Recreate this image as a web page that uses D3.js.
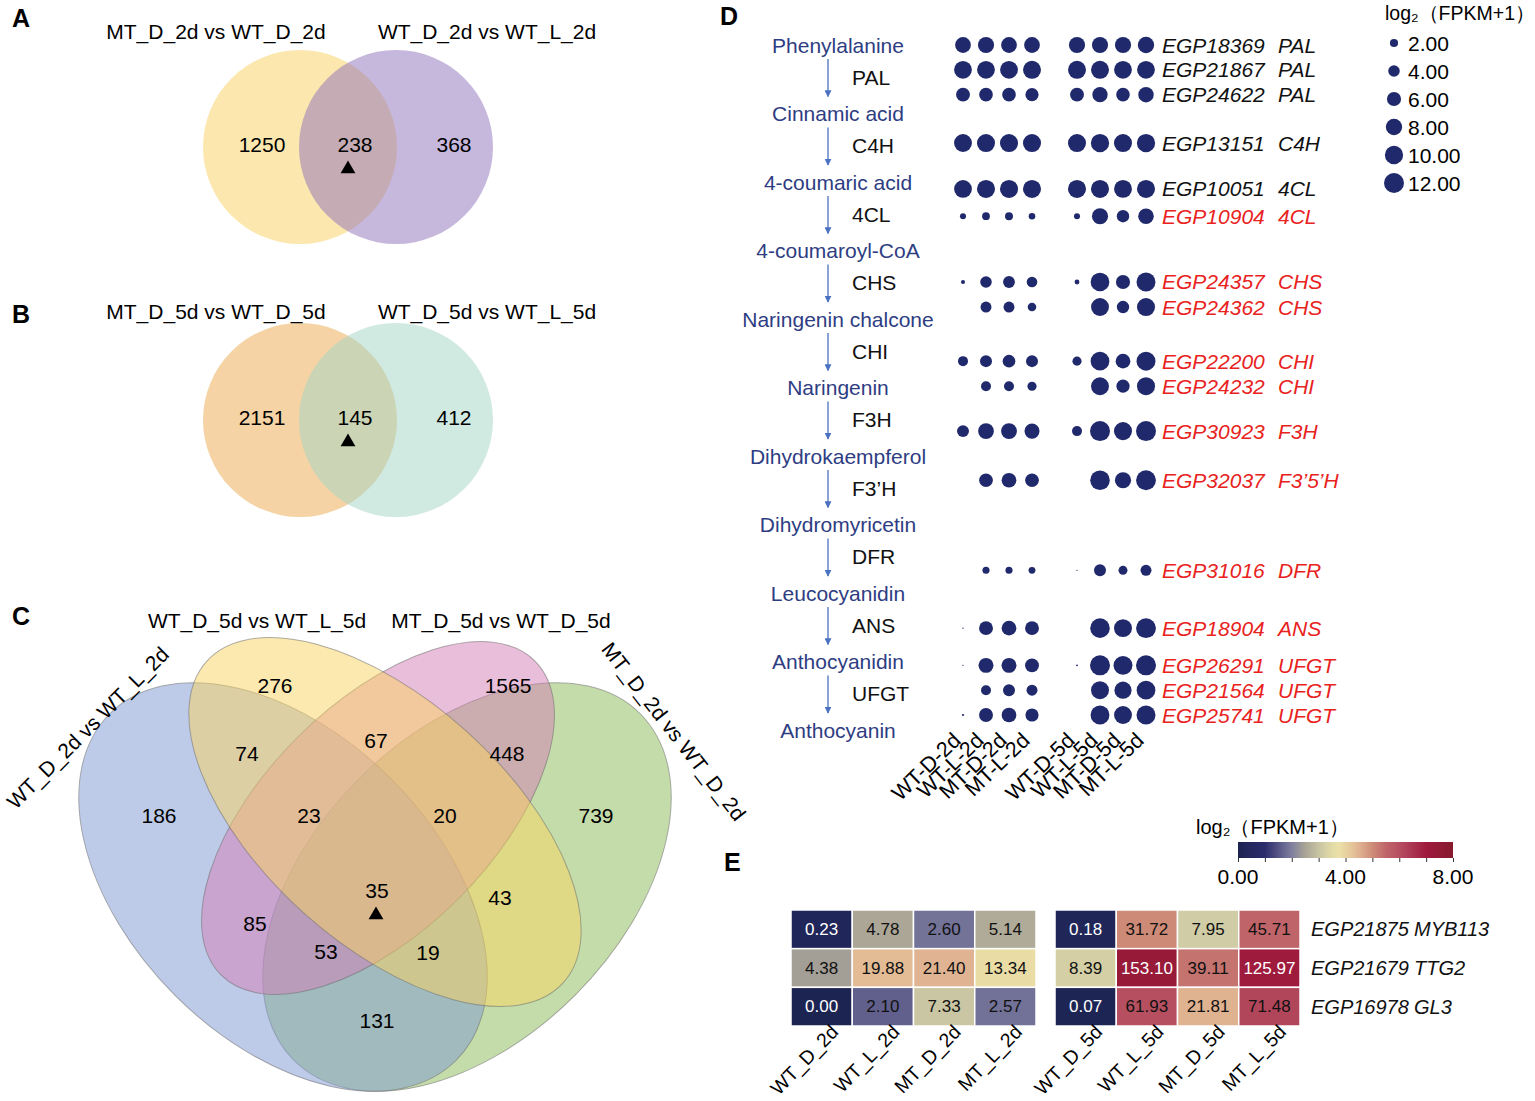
<!DOCTYPE html>
<html>
<head>
<meta charset="utf-8">
<script src="https://cdn.jsdelivr.net/npm/d3@7"></script>
<style>
body { margin: 0; background: #fff; }
svg { font-family: "Liberation Sans", Arial, sans-serif; }
</style>
</head>
<body>
<div id="fig"></div>
<script>
// ---------- data ----------
const VENN_A_SETS = ["MT_D_2d vs WT_D_2d", "WT_D_2d vs WT_L_2d"];
const VENN_A_COUNTS = [1250, 238, 368];
const VENN_B_SETS = ["MT_D_5d vs WT_D_5d", "WT_D_5d vs WT_L_5d"];
const VENN_B_COUNTS = [2151, 145, 412];

// A = WT_D_2d vs WT_L_2d, B = WT_D_5d vs WT_L_5d, C = MT_D_5d vs WT_D_5d, D = MT_D_2d vs WT_D_2d
const VENN_C_SETS = ["WT_D_2d vs WT_L_2d", "WT_D_5d vs WT_L_5d", "MT_D_5d vs WT_D_5d", "MT_D_2d vs WT_D_2d"];
const VENN_C_REGIONS = ["B", "C", "AB", "BC", "CD", "A", "ABC", "BCD", "D", "ABCD", "AC", "BD", "ACD", "ABD", "AD"];
const VENN_C_COUNTS = [276, 1565, 74, 67, 448, 186, 23, 20, 739, 35, 85, 43, 53, 19, 131];

const PATHWAY = ["Phenylalanine", "Cinnamic acid", "4-coumaric acid", "4-coumaroyl-CoA", "Naringenin chalcone",
	"Naringenin", "Dihydrokaempferol", "Dihydromyricetin", "Leucocyanidin", "Anthocyanidin", "Anthocyanin"];
const ENZYMES = ["PAL", "C4H", "4CL", "CHS", "CHI", "F3H", "F3\u2019H", "DFR", "ANS", "UFGT"];

const DOT_SAMPLES = ["WT-D-2d", "WT-L-2d", "MT-D-2d", "MT-L-2d", "WT-D-5d", "WT-L-5d", "MT-D-5d", "MT-L-5d"];
const DOT_GENES = ["EGP18369", "EGP21867", "EGP24622", "EGP13151", "EGP10051", "EGP10904", "EGP24357", "EGP24362",
	"EGP22200", "EGP24232", "EGP30923", "EGP32037", "EGP31016", "EGP18904", "EGP26291", "EGP21564", "EGP25741"];
const DOT_ENZ = ["PAL", "PAL", "PAL", "C4H", "4CL", "4CL", "CHS", "CHS", "CHI", "CHI", "F3H", "F3\u20195\u2019H",
	"DFR", "ANS", "UFGT", "UFGT", "UFGT"];
const DOT_VALUES = [
	[7.5, 7.8, 7.5, 7.5, 7.8, 7.8, 7.8, 8.0],
	[9.5, 9.5, 9.5, 9.7, 9.7, 9.7, 9.5, 9.5],
	[5.8, 5.6, 5.6, 5.2, 5.8, 7.0, 5.5, 7.2],
	[9.6, 9.8, 9.8, 9.8, 9.8, 10.0, 9.8, 10.0],
	[9.5, 9.8, 9.8, 9.8, 9.8, 9.8, 9.6, 9.8],
	[1.1, 1.8, 1.9, 1.3, 1.1, 7.8, 4.6, 7.3],
	[0.5, 4.0, 4.2, 3.4, 0.7, 10.5, 6.0, 10.8],
	[0.0, 3.6, 3.6, 2.2, 0.0, 9.6, 4.6, 9.8],
	[3.0, 4.3, 4.8, 4.3, 2.5, 10.5, 6.5, 10.8],
	[0.0, 3.0, 3.0, 2.5, 0.0, 9.6, 5.2, 9.8],
	[4.3, 7.5, 7.6, 6.8, 3.0, 12.0, 9.8, 12.0],
	[0.0, 5.6, 6.5, 5.6, 0.0, 11.5, 7.8, 11.8],
	[0.0, 1.5, 1.5, 1.4, 0.05, 4.3, 2.4, 3.6],
	[0.05, 5.8, 6.5, 5.8, 0.0, 11.5, 9.6, 11.8],
	[0.05, 6.7, 6.7, 5.8, 0.1, 12.0, 10.8, 12.0],
	[0.0, 3.0, 4.3, 3.6, 0.0, 9.6, 8.8, 10.5],
	[0.15, 5.8, 6.5, 5.2, 0.0, 10.7, 9.6, 10.8]
];
const DOT_LEGEND = [2, 4, 6, 8, 10, 12];

const HEAT_SAMPLES = ["WT_D_2d", "WT_L_2d", "MT_D_2d", "MT_L_2d", "WT_D_5d", "WT_L_5d", "MT_D_5d", "MT_L_5d"];
const HEAT_GENES = ["EGP21875", "EGP21679", "EGP16978"];
const HEAT_TF = ["MYB113", "TTG2", "GL3"];
const HEAT_VALUES = [
	[0.23, 4.78, 2.60, 5.14, 0.18, 31.72, 7.95, 45.71],
	[4.38, 19.88, 21.40, 13.34, 8.39, 153.10, 39.11, 125.97],
	[0.00, 2.10, 7.33, 2.57, 0.07, 61.93, 21.81, 71.48]
];
const HEAT_TICKS = [0, 4, 8];

// ---------- layout ----------
const W = 1535, H = 1101;
const TITLE = "log\u2082\uFF08FPKM+1\uFF09";
const VENN_C_POS = [[275, 685], [508, 685], [247, 753], [376, 740], [507, 753], [159, 815], [309, 815], [445, 815],
	[596, 815], [377, 890], [255, 923], [500, 897], [326, 951], [428, 952], [377, 1020]];
const DOT_ROW_SLOT = [0, 1, 2, 3.95, 5.8, 6.9, 9.55, 10.56, 12.74, 13.75, 15.56, 17.54, 21.17, 23.5, 25, 26, 27];
const RED_FROM = 5;

const svg = d3.select("#fig").append("svg").attr("width", W).attr("height", H);

// panel letters
[["A", 12, 27], ["B", 12, 323], ["C", 12, 625], ["D", 720, 25], ["E", 724, 871]].forEach(([t, x, y]) => {
	svg.append("text").attr("x", x).attr("y", y).attr("font-size", 25).attr("font-weight", "bold").text(t);
});

const tri = d3.symbol().type(d3.symbolTriangle).size(95);

// ---------- two-set venns (A, B) ----------
function twoVenn(cy, titleY, sets, counts, fills) {
	const cx = [300, 396];
	const g = svg.append("g");
	g.selectAll("circle").data(fills).enter().append("circle")
		.attr("cx", (d, i) => cx[i]).attr("cy", cy).attr("r", 97)
		.attr("fill", d => d).attr("fill-opacity", 0.5);
	g.selectAll(".ttl").data(sets).enter().append("text")
		.attr("x", (d, i) => [216, 487][i]).attr("y", titleY)
		.attr("text-anchor", "middle").attr("font-size", 21).text(d => d);
	g.selectAll(".num").data(counts).enter().append("text")
		.attr("x", (d, i) => [262, 355, 454][i]).attr("y", cy - 3)
		.attr("text-anchor", "middle").attr("dominant-baseline", "central").attr("font-size", 21).text(d => d);
	g.append("path").attr("d", tri).attr("transform", "translate(348," + (cy + 22) + ")").attr("fill", "#000");
}
twoVenn(147, 39, VENN_A_SETS, VENN_A_COUNTS, ["#f9d15f", "#8d6fb9"]);
twoVenn(420, 319, VENN_B_SETS, VENN_B_COUNTS, ["#eba74b", "#a1d5c5"]);

// ---------- four-set venn (C) ----------
const ELLIPSES = [
	{set: 3, cx: 467, cy: 887, rx: 245, ry: 153, rot: -45, fill: "#89b955"},
	{set: 0, cx: 283, cy: 887, rx: 245, ry: 153, rot: 45, fill: "#7d97d1"},
	{set: 2, cx: 378, cy: 818, rx: 222, ry: 114, rot: -45, fill: "#d17db5"},
	{set: 1, cx: 385, cy: 822, rx: 240, ry: 122, rot: 42, fill: "#f9d35f"}
];
const gC = svg.append("g");
gC.selectAll("ellipse").data(ELLIPSES).enter().append("ellipse")
	.attr("transform", d => "translate(" + d.cx + "," + d.cy + ") rotate(" + d.rot + ")")
	.attr("rx", d => d.rx).attr("ry", d => d.ry)
	.attr("fill", d => d.fill).attr("fill-opacity", 0.5)
	.attr("stroke", "#6f6f6f").attr("stroke-opacity", 0.55).attr("stroke-width", 1);

gC.selectAll(".num").data(VENN_C_COUNTS).enter().append("text")
	.attr("x", (d, i) => VENN_C_POS[i][0]).attr("y", (d, i) => VENN_C_POS[i][1])
	.attr("text-anchor", "middle").attr("dominant-baseline", "central").attr("font-size", 21).text(d => d);
gC.append("path").attr("d", tri).attr("transform", "translate(376,915)").attr("fill", "#000");

gC.append("text").attr("x", 257).attr("y", 628).attr("text-anchor", "middle").attr("font-size", 21).text(VENN_C_SETS[1]);
gC.append("text").attr("x", 501).attr("y", 628).attr("text-anchor", "middle").attr("font-size", 21).text(VENN_C_SETS[2]);
gC.append("text").attr("transform", "translate(93,733) rotate(-45)").attr("text-anchor", "middle")
	.attr("font-size", 21).text(VENN_C_SETS[0]);
gC.append("text").attr("transform", "translate(668,736) rotate(52)").attr("text-anchor", "middle")
	.attr("font-size", 21).text(VENN_C_SETS[3]);

// ---------- pathway + dot plot (D) ----------
const NAVY = "#20296c";
const PATH_Y = d3.scalePoint().domain(PATHWAY).range([45, 730]);
const gD = svg.append("g");

gD.append("defs").append("marker").attr("id", "arr")
	.attr("viewBox", "0 0 10 10").attr("refX", 9).attr("refY", 5)
	.attr("markerWidth", 7).attr("markerHeight", 7).attr("markerUnits", "userSpaceOnUse").attr("orient", "auto")
	.append("path").attr("d", "M0,0 L10,5 L0,10 z").attr("fill", "#4a72c0");

gD.selectAll(".cmp").data(PATHWAY).enter().append("text")
	.attr("x", 838).attr("y", d => PATH_Y(d)).attr("dominant-baseline", "central")
	.attr("text-anchor", "middle").attr("font-size", 21).attr("fill", "#2e3d82").text(d => d);

gD.selectAll(".arrow").data(ENZYMES).enter().append("line")
	.attr("x1", 828).attr("x2", 828)
	.attr("y1", (d, i) => PATH_Y(PATHWAY[i]) + 14)
	.attr("y2", (d, i) => PATH_Y(PATHWAY[i + 1]) - 17)
	.attr("stroke", "#4a72c0").attr("stroke-width", 1.3).attr("marker-end", "url(#arr)");

gD.selectAll(".enz").data(ENZYMES).enter().append("text")
	.attr("x", 852).attr("y", (d, i) => (PATH_Y(PATHWAY[i]) + PATH_Y(PATHWAY[i + 1])) / 2 - 2)
	.attr("dominant-baseline", "central").attr("font-size", 21).attr("fill", "#111").text(d => d);

const X_2D = d3.scalePoint().domain(DOT_SAMPLES.slice(0, 4)).range([963, 1032]);
const X_5D = d3.scalePoint().domain(DOT_SAMPLES.slice(4)).range([1077, 1146]);
const dotX = s => (DOT_SAMPLES.indexOf(s) < 4 ? X_2D(s) : X_5D(s));
const DOT_Y = d3.scaleLinear().domain([0, 27]).range([45, 715]);
const R_SCALE = d3.scaleSqrt().domain([0, 12]).range([0, 10]);

const dots = [];
DOT_GENES.forEach((g, i) => DOT_VALUES[i].forEach((v, j) => dots.push({row: i, s: DOT_SAMPLES[j], v: v})));

gD.selectAll(".dot").data(dots.filter(d => d.v > 0)).enter().append("circle")
	.attr("cx", d => dotX(d.s)).attr("cy", d => DOT_Y(DOT_ROW_SLOT[d.row]))
	.attr("r", d => R_SCALE(d.v)).attr("fill", NAVY);

const geneRows = gD.selectAll(".gene").data(DOT_GENES).enter().append("g")
	.attr("fill", (d, i) => i >= RED_FROM ? "#e8221d" : "#111")
	.attr("font-size", 21).attr("font-style", "italic");
geneRows.append("text").attr("x", 1162).attr("y", (d, i) => DOT_Y(DOT_ROW_SLOT[i]))
	.attr("dominant-baseline", "central").text(d => d);
geneRows.append("text").attr("x", 1278).attr("y", (d, i) => DOT_Y(DOT_ROW_SLOT[i]))
	.attr("dominant-baseline", "central").text((d, i) => DOT_ENZ[i]);

gD.selectAll(".col").data(DOT_SAMPLES).enter().append("text")
	.attr("transform", d => "translate(" + (dotX(d) - 1) + ",742) rotate(-44)")
	.attr("text-anchor", "end").attr("font-size", 21.5).text(d => d);

// size legend
gD.append("text").attr("x", 1385).attr("y", 20).attr("font-size", 19.5).text(TITLE);
const LEG_Y = d3.scalePoint().domain(DOT_LEGEND).range([43, 183]);
gD.selectAll(".legdot").data(DOT_LEGEND).enter().append("circle")
	.attr("cx", 1394).attr("cy", d => LEG_Y(d)).attr("r", d => R_SCALE(d)).attr("fill", NAVY);
gD.selectAll(".legtxt").data(DOT_LEGEND).enter().append("text")
	.attr("x", 1408).attr("y", d => LEG_Y(d)).attr("dominant-baseline", "central")
	.attr("font-size", 21).text(d => d3.format(".2f")(d));

// ---------- heatmap (E) ----------
const gE = svg.append("g");
const HEAT_COLOR = d3.scaleLinear()
	.domain([0, 1, 2, 2.5, 3.1, 3.7, 4.4, 5, 5.5, 6.1, 7, 8])
	.range(["#1c2452", "#2b2b6c", "#807f9f", "#a9a495", "#cdc9a4", "#ece4a9", "#e3bb96", "#ce8c78",
		"#c0666a", "#b34a5e", "#9f1a3e", "#861a2c"]);
const HX_2D = d3.scaleBand().domain(HEAT_SAMPLES.slice(0, 4)).range([791, 1036]);
const HX_5D = d3.scaleBand().domain(HEAT_SAMPLES.slice(4)).range([1055, 1300]);
const heatX = s => (HEAT_SAMPLES.indexOf(s) < 4 ? HX_2D(s) : HX_5D(s));
const HY = d3.scaleBand().domain(HEAT_GENES).range([910, 1026]);

const cells = [];
HEAT_GENES.forEach((g, i) => HEAT_VALUES[i].forEach((v, j) => cells.push({g: g, s: HEAT_SAMPLES[j], v: v, l: Math.log2(v + 1)})));

gE.selectAll(".cell").data(cells).enter().append("rect")
	.attr("x", d => heatX(d.s)).attr("y", d => HY(d.g))
	.attr("width", HX_2D.bandwidth()).attr("height", HY.bandwidth())
	.attr("fill", d => HEAT_COLOR(d.l)).attr("stroke", "#fff").attr("stroke-width", 1.5);
gE.selectAll(".val").data(cells).enter().append("text")
	.attr("x", d => heatX(d.s) + HX_2D.bandwidth() / 2).attr("y", d => HY(d.g) + HY.bandwidth() / 2)
	.attr("text-anchor", "middle").attr("dominant-baseline", "central").attr("font-size", 17)
	.attr("fill", d => (d.l < 1 || d.l > 6.6) ? "#fff" : "#111").text(d => d.v.toFixed(2));

const tfRows = gE.selectAll(".tf").data(HEAT_GENES).enter().append("g")
	.attr("font-size", 20).attr("font-style", "italic").attr("fill", "#111");
tfRows.append("text").attr("x", 1311).attr("y", d => HY(d) + HY.bandwidth() / 2)
	.attr("dominant-baseline", "central").text(d => d);
tfRows.append("text").attr("x", 1414).attr("y", d => HY(d) + HY.bandwidth() / 2)
	.attr("dominant-baseline", "central").text((d, i) => HEAT_TF[i]);

gE.selectAll(".hcol").data(HEAT_SAMPLES).enter().append("text")
	.attr("transform", d => "translate(" + (heatX(d) + HX_2D.bandwidth() / 2 + 18) + ",1033) rotate(-46)")
	.attr("text-anchor", "end").attr("font-size", 19.5).text(d => d);

// colour bar
const CB_X = d3.scaleLinear().domain([0, 8]).range([1238, 1453]);
const grad = gE.append("defs").append("linearGradient").attr("id", "cb");
grad.selectAll("stop").data(d3.range(0, 8.01, 0.25)).enter().append("stop")
	.attr("offset", d => (d / 8 * 100) + "%").attr("stop-color", d => HEAT_COLOR(d));
gE.append("rect").attr("x", CB_X(0)).attr("y", 842).attr("width", CB_X(8) - CB_X(0)).attr("height", 16)
	.attr("fill", "url(#cb)");
gE.append("g").attr("transform", "translate(0,858)")
	.call(d3.axisBottom(CB_X).tickValues(d3.range(0, 9)).tickSize(4).tickFormat(""))
	.call(a => a.select(".domain").remove())
	.selectAll("line").attr("stroke", "#333");
gE.selectAll(".cbl").data(HEAT_TICKS).enter().append("text")
	.attr("x", d => CB_X(d)).attr("y", 884).attr("text-anchor", "middle").attr("font-size", 21)
	.text(d => d.toFixed(2));
gE.append("text").attr("x", 1196).attr("y", 834).attr("font-size", 20).text(TITLE);
</script>
</body>
</html>
